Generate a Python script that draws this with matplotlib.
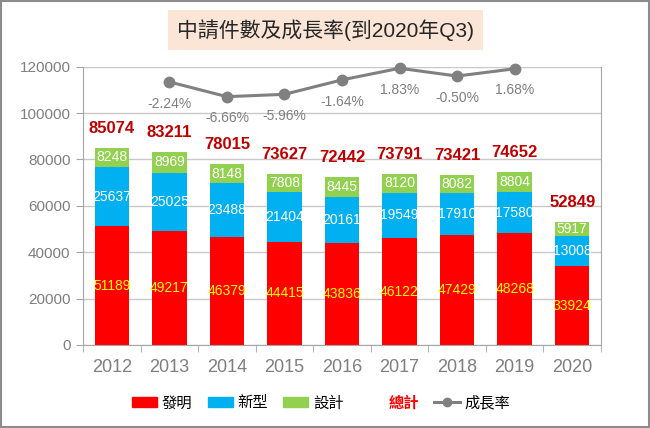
import numpy as np
import matplotlib
matplotlib.use('Agg')
import matplotlib.pyplot as plt
from matplotlib.patches import Patch, Rectangle
from matplotlib.lines import Line2D

plt.rcParams['font.family'] = ['Liberation Sans', 'Noto Sans CJK TC', 'DejaVu Sans']

years = ['2012', '2013', '2014', '2015', '2016', '2017', '2018', '2019', '2020']
invention = [51189, 49217, 46379, 44415, 43836, 46122, 47429, 48268, 33924]
utility = [25637, 25025, 23488, 21404, 20161, 19549, 17910, 17580, 13008]
design = [8248, 8969, 8148, 7808, 8445, 8120, 8082, 8804, 5917]
totals = [85074, 83211, 78015, 73627, 72442, 73791, 73421, 74652, 52849]
growth_years = ['2013', '2014', '2015', '2016', '2017', '2018', '2019']
growth = [-2.24, -6.66, -5.96, -1.64, 1.83, -0.50, 1.68]

red = '#FF0000'
blue = '#00B0F0'
green = '#92D050'
gray = '#7F7F7F'

fig = plt.figure(figsize=(6.5, 4.28), dpi=100)
ax = fig.add_axes([83/650, 1-345/428, (601-83)/650, (345-66.7)/428])

x = np.arange(len(years))
w = 0.6
b1 = ax.bar(x, invention, w, color=red, zorder=2)
b2 = ax.bar(x, utility, w, bottom=invention, color=blue, zorder=2)
bottom3 = np.array(invention) + np.array(utility)
b3 = ax.bar(x, design, w, bottom=bottom3, color=green, zorder=2)

ax.bar_label(b1, label_type='center', color='#FFFF00', fontsize=10)
ax.bar_label(b2, label_type='center', color='white', fontsize=10)
ax.bar_label(b3, label_type='center', color='white', fontsize=10)

for xi, t in zip(x, totals):
    ax.annotate(str(t), (xi, t), xytext=(0, 14), textcoords='offset points',
                ha='center', va='center', color='#C00000', fontsize=12,
                fontweight='bold')

ax.set_xlim(-0.5, len(years) - 0.5)
ax.set_ylim(0, 120000)
ax.set_yticks(np.arange(0, 120001, 20000))
ax.set_xticks(x)
ax.set_xticklabels(years)
ax.set_xticks(np.arange(-0.5, len(years)), minor=True)
ax.tick_params(axis='x', which='major', length=0, labelsize=13, labelcolor=gray, pad=10)
ax.tick_params(axis='x', which='minor', length=5, color='#A6A6A6', direction='out')
ax.tick_params(axis='y', length=5, color='#A6A6A6', labelsize=11, labelcolor=gray, pad=4)
ax.grid(axis='y', color='#C8C8C8', lw=1, zorder=0)
ax.spines['top'].set_visible(False)
for s in ['left', 'bottom', 'right']:
    ax.spines[s].set_color('#A6A6A6')

ax2 = ax.twinx()
gx = [years.index(g) for g in growth_years]
ax2.plot(gx, growth, color='#808080', lw=2.2, marker='o', markersize=7.5,
         zorder=3, clip_on=False)
for xi, g in zip(gx, growth):
    ax2.annotate('%.2f%%' % g, (xi, g), xytext=(0, -15.6), textcoords='offset points',
                 ha='center', va='center', color=gray, fontsize=10)
ax2.set_ylim(-80.9, 2.30)
ax2.set_yticks([])
for s in ax2.spines.values():
    s.set_visible(False)

fig.text(325.5/650, 1-30/428, '中請件數及成長率(到2020年Q3)', ha='center', va='center',
         fontsize=15, color='#262626',
         bbox=dict(boxstyle='square,pad=0.45', facecolor='#FBE5D6', edgecolor='none'))

handles = [Patch(color=red), Patch(color=blue), Patch(color=green),
           Line2D([], [], color='none'),
           Line2D([], [], color='#808080', lw=2.2, marker='o', markersize=6)]
labels = ['發明', '新型', '設計', '總計', '成長率']
leg = fig.legend(handles, labels, loc='center', bbox_to_anchor=(321/650, 1-403/428),
                 ncol=5, frameon=False, fontsize=11, handlelength=1.65,
                 handletextpad=0.3, columnspacing=1.0)
leg.get_texts()[3].set_color(red)
leg.get_texts()[3].set_fontweight('bold')

fig.patches.append(Rectangle((0.002, 0.002), 0.996, 0.995, transform=fig.transFigure,
                             fill=False, edgecolor='#8C8C8C', lw=1.5))

fig.savefig('out.png', dpi=100)
